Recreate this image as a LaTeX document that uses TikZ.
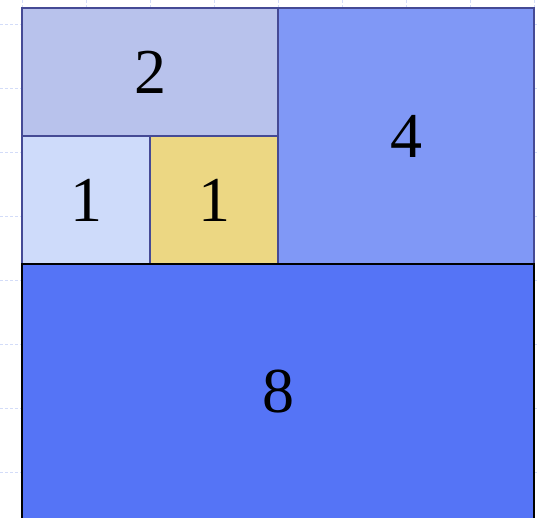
\documentclass[tikz,border=0pt]{standalone}
\usepackage{fontspec}
\setmainfont{Liberation Serif}
\definecolor{gridc}{HTML}{D3DCF8}
\definecolor{edgec}{HTML}{454A95}
\definecolor{ctwo}{HTML}{B8C2EC}
\definecolor{conea}{HTML}{CEDBFA}
\definecolor{coneb}{HTML}{ECD783}
\definecolor{cfour}{HTML}{8098F6}
\definecolor{ceight}{HTML}{5574F6}
\tikzset{
  cell/.style={rectangle, inner sep=0pt, line width=1.6pt, draw=edgec,
    font=\fontsize{64}{64}\selectfont},
  bigcell/.style={cell, draw=black},
  gridline/.style={draw=gridc, line width=0.6pt, dash pattern=on 3pt off 2pt}
}
\begin{document}
\begin{tikzpicture}[x=1pt,y=-1pt]
\useasboundingbox (0,0) rectangle (537,517);
\begin{scope}
\clip (0,0) rectangle (537,517);
\foreach \gx in {22,86,...,534} \draw[gridline] (\gx,0) -- (\gx,517);
\foreach \gy in {24,88,...,472} \draw[gridline] (0,\gy) -- (537,\gy);
\node[cell, fill=ctwo, minimum width=256pt, minimum height=128pt] (two) at (150,72) {2};
\node[cell, fill=conea, minimum width=128pt, minimum height=128pt] (onea) at (86,200) {1};
\node[cell, fill=coneb, minimum width=128pt, minimum height=128pt] (oneb) at (214,200) {1};
\node[cell, fill=cfour, minimum width=256pt, minimum height=256pt] (four) at (406,136) {4};
\node[bigcell, fill=ceight, minimum width=512pt, minimum height=256pt] (eight) at (278,392) {8};
\end{scope}
\end{tikzpicture}
\end{document}
